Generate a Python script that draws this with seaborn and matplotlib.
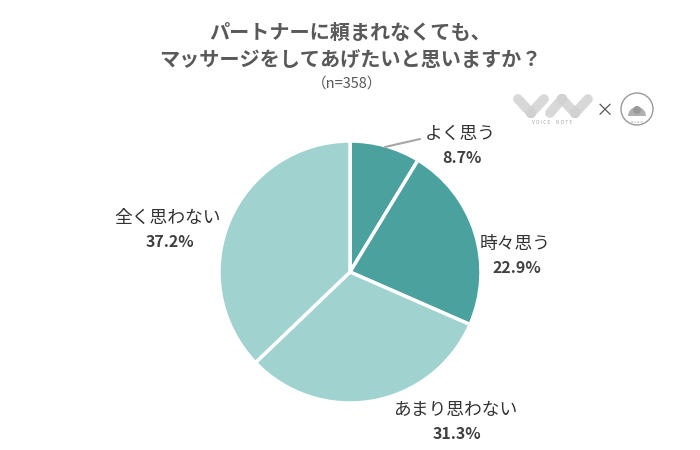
import matplotlib
matplotlib.use('Agg')
import matplotlib.pyplot as plt
import seaborn as sns
from matplotlib.patches import Circle, Wedge

sns.set_theme(style='white')
plt.rcParams['font.family'] = ['Noto Sans CJK JP', 'DejaVu Sans']

# データ
labels = ['よく思う', '時々思う', 'あまり思わない', '全く思わない']
values = [8.7, 22.9, 31.3, 37.2]
pct_labels = ['8.7%', '22.9%', '31.3%', '37.2%']
colors = ['#4ba19e', '#4ba19e', '#a0d2d0', '#a0d2d0']

fig = plt.figure(figsize=(7, 4.5), dpi=100)
ax = fig.add_axes([0, 0, 1, 1])

ax.pie(values, colors=colors, startangle=90, counterclock=False,
       center=(350, 178), radius=131,
       wedgeprops=dict(edgecolor='white', linewidth=2.5))
ax.set_xlim(0, 700)
ax.set_ylim(0, 450)
ax.set_aspect('equal')
ax.axis('off')

# タイトル
ax.text(350, 418, 'パートナーに頼まれなくても、', ha='center', va='center',
        fontsize=14.5, fontweight='bold', color='#595959')
ax.text(350, 391, 'マッサージをしてあげたいと思いますか？', ha='center', va='center',
        fontsize=14.5, fontweight='bold', color='#595959')
ax.text(347, 366, '（n=358）', ha='center', va='center', fontsize=10.5, color='#595959')

# ラベル (ピクセル位置)
pos = [(460, 134), (515, 244), (455, 410), (168, 218)]
for (x, py), lab, p in zip(pos, labels, pct_labels):
    ax.text(x, 450 - py, lab, ha='center', va='center', fontsize=12.8, color='#333333')
    ax.text(x + 2, 450 - py - 24, p, ha='center', va='center', fontsize=11.5,
            fontweight='bold', color='#404040')
ax.plot([385, 420], [303, 311], color='#a6a6a6', lw=1.5)

# ロゴ（簡易）
strokes = [((518, 99), (531, 113)), ((531, 113), (544, 99)),
           ((550, 113), (562, 99)), ((562, 99), (575, 113)), ((575, 113), (588, 99))]
for (x1, y1), (x2, y2) in strokes:
    ax.plot([x1, x2], [450 - y1, 450 - y2], color='#d2d2d2', lw=7,
            solid_capstyle='round', alpha=0.85)
for x, y in [(531, 113), (562, 99), (575, 113)]:
    ax.add_patch(Circle((x, 450 - y), 5, fc='#b4b4b4', ec='none'))
ax.text(552, 450 - 123, 'V O I C E     N O T E', ha='center', va='center',
        fontsize=3.5, color='#aaaaaa')
ax.text(605, 450 - 111, '×', ha='center', va='center', fontsize=13, color='#555555')
ax.add_patch(Circle((637, 450 - 109), 16, fc='none', ec='#999999', lw=1))
ax.add_patch(Wedge((637, 450 - 116), 9, 0, 180, fc='#b0b0b0', ec='none'))
ax.add_patch(Circle((637, 450 - 110), 4, fc='#999999', ec='none'))
ax.text(637, 450 - 122, 'e c a o', ha='center', va='center', fontsize=3, color='#999999')

fig.savefig('out.png', dpi=100)
